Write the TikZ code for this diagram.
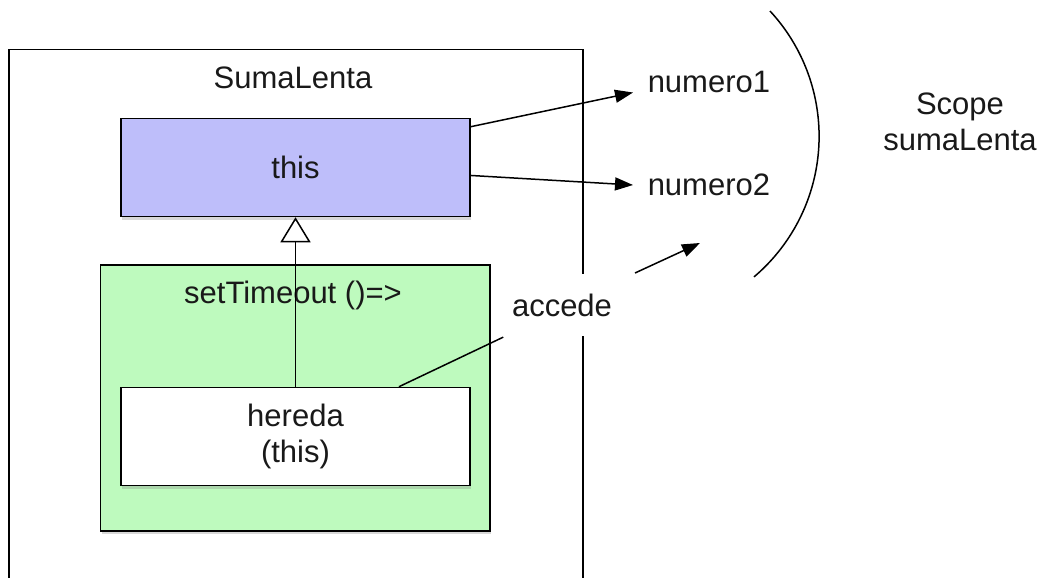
\documentclass[tikz,border=0pt]{standalone}
\usepackage{fontspec}
\setmainfont{Liberation Sans}
\usetikzlibrary{arrows.meta,shadows,calc}
\definecolor{boxblue}{RGB}{190,190,250}
\definecolor{boxgreen}{RGB}{190,250,190}
\definecolor{ink}{RGB}{25,25,25}
\begin{document}
\begin{tikzpicture}[x=1pt,y=-1pt,
  every node/.style={font=\fontsize{31}{36}\selectfont, text=ink},
  line width=1.5pt,
  shade box/.style={draw, inner sep=0pt,
    drop shadow={shadow xshift=1pt, shadow yshift=-3pt, opacity=0.3}},
  innerbox/.style={shade box, minimum width=349pt, minimum height=98pt},
  arr/.style={-{Triangle[length=18pt,width=13pt]}},
  inherit/.style={-{Triangle[fill=white,length=25pt,width=30pt]}}]
\useasboundingbox (0,0) rectangle (1042,578);
\clip (0,0) rectangle (1042,578);
\fill[white] (0,0) rectangle (1042,578);

% outer SumaLenta box (continues below the picture edge)
\node[draw, inner sep=0pt, minimum width=573.6pt, minimum height=600pt, anchor=north west] (outer) at (8.4,49) {};
\node (sltitle) at (293,78) {SumaLenta};

% this
\node[innerbox, fill=boxblue] (this) at (295.5,167.5) {this};

% setTimeout box
\node[shade box, fill=boxgreen, minimum width=389.4pt, minimum height=266pt] (st) at (295.3,398) {};
\node (sttitle) at (293,295) {setTimeout ()=>};

% hereda (this)
\node[innerbox, fill=white, align=center] (hereda) at (295.5,436.5) {hereda\\(this)};

% inheritance
\draw[inherit] (hereda.north) -- (this.south);

% accede label (covers outer border)
\node[fill=white, inner xsep=8pt, inner ysep=20pt] (accede) at (562,305) {accede};
\draw ($(hereda.north west)!0.795!(hereda.north east)$) -- (accede.south west);

% numero labels
\node[anchor=west, inner xsep=14pt] (n1) at (633,82) {numero1};
\node[anchor=west, inner xsep=14pt] (n2) at (633,185) {numero2};
\draw[arr] ($(this.north east)!0.09!(this.south east)$) -- (n1.base west);
\draw[arr] ($(this.north east)!0.58!(this.south east)$) -- (n2.west);

% access arrow
\coordinate (a3s) at (635,273);
\coordinate (a3e) at (700,243);
\draw[arr] (a3s) -- (a3e);

% scope arc
\draw plot[domain=-42.8:49.7, samples=60, smooth] ({634.7+184.4*cos(\x)},{136.3+184.4*sin(\x)});

\node[align=center] (scope) at (960,122) {Scope\\sumaLenta};
\end{tikzpicture}
\end{document}
